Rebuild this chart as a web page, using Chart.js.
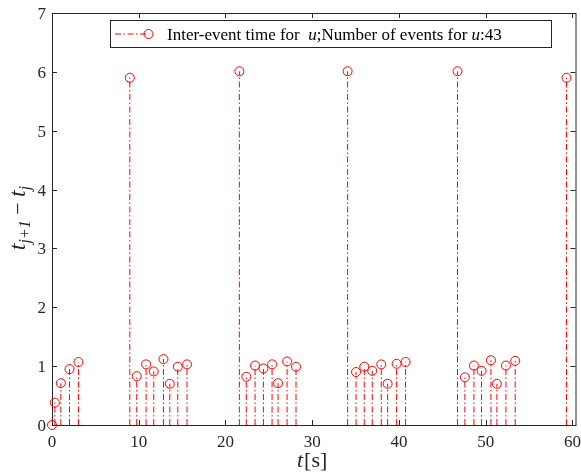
<!DOCTYPE html>
<html>
<head>
<meta charset="utf-8">
<script src="https://cdn.jsdelivr.net/npm/chart.js@4.4.0/dist/chart.umd.min.js"></script>
<style>
  html, body { margin: 0; padding: 0; background: #fff; }
  #wrap { width: 581px; height: 472px; }
</style>
</head>
<body>
<div id="wrap"><canvas id="chart" width="581" height="472"></canvas></div>
<script>
// stem plot of inter-event times
const eventTimes = [
  0, 0.33, 1.02, 2.02, 3.05,
  8.97, 9.77, 10.85, 11.73, 12.85, 13.58, 14.5, 15.57,
  21.6, 22.4, 23.41, 24.37, 25.37, 26.06, 27.1, 28.13,
  34.08, 35.05, 36.0, 36.92, 37.96, 38.69, 39.73, 40.76,
  46.75, 47.6, 48.64, 49.52, 50.6, 51.29, 52.33, 53.4,
  59.31
];
const interEvent = [
  0, 0.38, 0.71, 0.95, 1.07,
  5.9, 0.83, 1.03, 0.91, 1.12, 0.7, 0.99, 1.03,
  6.01, 0.82, 1.01, 0.96, 1.03, 0.71, 1.08, 0.99,
  6.01, 0.9, 0.99, 0.92, 1.03, 0.7, 1.04, 1.07,
  6.01, 0.81, 1.01, 0.92, 1.1, 0.7, 1.01, 1.09,
  5.9
];
const xTicks = [0, 10, 20, 30, 40, 50, 60];
const yTicks = [0, 1, 2, 3, 4, 5, 6, 7];
const legendParts = [
  ['Inter-event time for  ', false], ['u', true], [';Number of events for ', false], ['u', true], [':43', false]
];

const RED = '#ff0000';
const AXIS = '#262626';
const SERIF = '"Liberation Serif", "DejaVu Serif", serif';
const DASHDOT = [6, 2.5, 1.5, 2.5];

const stemPlugin = {
  id: 'stems',
  beforeDatasetsDraw(chart) {
    const { ctx, scales: { x, y } } = chart;
    const y0 = y.getPixelForValue(0);
    ctx.save();
    ctx.strokeStyle = RED;
    ctx.lineWidth = 1;
    ctx.setLineDash(DASHDOT);
    eventTimes.forEach((t, i) => {
      const px = x.getPixelForValue(t);
      ctx.beginPath();
      ctx.moveTo(px, y0);
      ctx.lineTo(px, y.getPixelForValue(interEvent[i]));
      ctx.stroke();
    });
    ctx.restore();
  }
};

const framePlugin = {
  id: 'frame',
  beforeDatasetsDraw(chart) {
    const { ctx, chartArea: a, scales: { x, y } } = chart;
    ctx.save();
    ctx.strokeStyle = AXIS;
    ctx.lineWidth = 1;
    ctx.strokeRect(a.left + 0.5, a.top + 0.5, a.right - a.left, a.bottom - a.top);
    const tl = 5;
    ctx.beginPath();
    xTicks.forEach(v => {
      const px = Math.round(x.getPixelForValue(v)) + 0.5;
      ctx.moveTo(px, a.bottom); ctx.lineTo(px, a.bottom - tl);
      ctx.moveTo(px, a.top); ctx.lineTo(px, a.top + tl);
    });
    yTicks.forEach(v => {
      const py = Math.round(y.getPixelForValue(v)) + 0.5;
      ctx.moveTo(a.left, py); ctx.lineTo(a.left + tl, py);
      ctx.moveTo(a.right, py); ctx.lineTo(a.right - tl, py);
    });
    ctx.stroke();

    // tick labels
    ctx.fillStyle = AXIS;
    ctx.font = '17px ' + SERIF;
    ctx.textAlign = 'center';
    ctx.textBaseline = 'alphabetic';
    xTicks.forEach(v => ctx.fillText(String(v), x.getPixelForValue(v), a.bottom + 22));
    ctx.textAlign = 'right';
    yTicks.forEach(v => ctx.fillText(String(v), a.left - 6, y.getPixelForValue(v) + 6));
    ctx.restore();
  },
  afterDraw(chart) {
    const { ctx } = chart;
    ctx.save();
    ctx.strokeStyle = AXIS;
    ctx.lineWidth = 1;
    // legend box
    const lx = 110.5, ly = 20.5, lw = 441, lh = 27;
    ctx.fillStyle = '#fff';
    ctx.fillRect(lx, ly, lw, lh);
    ctx.strokeRect(lx, ly, lw, lh);
    const cy = ly + lh / 2;
    ctx.strokeStyle = RED;
    ctx.setLineDash(DASHDOT);
    ctx.beginPath(); ctx.moveTo(115, cy); ctx.lineTo(148, cy); ctx.stroke();
    ctx.setLineDash([]);
    ctx.beginPath(); ctx.arc(148.5, cy, 4.5, 0, Math.PI * 2); ctx.stroke();
    let tx = 167;
    ctx.fillStyle = '#000';
    ctx.textBaseline = 'alphabetic';
    legendParts.forEach(([s, it]) => {
      ctx.font = (it ? 'italic ' : '') + '17px ' + SERIF;
      ctx.fillText(s, tx, cy + 6);
      tx += ctx.measureText(s).width;
    });

    // x title: t[s]
    ctx.fillStyle = AXIS;
    let xx = 297;
    [['t', true], ['[s]', false]].forEach(([s, it]) => {
      ctx.font = (it ? 'italic ' : '') + '22px ' + SERIF;
      ctx.fillText(s, xx, 467);
      xx += ctx.measureText(s).width + (it ? 1 : 0);
    });

    // y title: t_{j+1} - t_j
    ctx.translate(25, 218);
    ctx.rotate(-Math.PI / 2);
    const parts = [
      ['t', 'italic 24px', 0], ['j+1', 'italic 16px', 5], [' \u2212 ', '22px', 0], ['t', 'italic 24px', 0], ['j', 'italic 16px', 5]
    ];
    let total = 0;
    parts.forEach(([s, f]) => { ctx.font = f + ' ' + SERIF; total += ctx.measureText(s).width; });
    let yx = -total / 2;
    parts.forEach(([s, f, dy]) => {
      ctx.font = f + ' ' + SERIF;
      ctx.fillText(s, yx, dy);
      yx += ctx.measureText(s).width;
    });
    ctx.restore();
  }
};

new Chart(document.getElementById('chart'), {
  type: 'scatter',
  data: {
    datasets: [{
      data: eventTimes.map((t, i) => ({ x: t, y: interEvent[i] })),
      clip: false,
      pointStyle: 'circle',
      pointRadius: 4.5,
      pointHoverRadius: 4.5,
      pointBorderColor: RED,
      pointBackgroundColor: 'rgba(0,0,0,0)',
      pointBorderWidth: 1,
      showLine: false
    }]
  },
  options: {
    responsive: false,
    animation: false,
    devicePixelRatio: 1,
    layout: { padding: { top: 13, right: 5, left: 0, bottom: 0 } },
    plugins: { legend: { display: false }, tooltip: { enabled: false } },
    scales: {
      x: {
        type: 'linear', min: 0, max: 60.35,
        afterBuildTicks: s => { s.ticks = xTicks.map(v => ({ value: v })); },
        afterFit: s => { s.height = 47; },
        grid: { display: false, drawTicks: false },
        border: { display: false },
        ticks: { display: false }
      },
      y: {
        type: 'linear', min: 0, max: 7,
        afterBuildTicks: s => { s.ticks = yTicks.map(v => ({ value: v })); },
        afterFit: s => { s.width = 52; },
        grid: { display: false, drawTicks: false },
        border: { display: false },
        ticks: { display: false }
      }
    }
  },
  plugins: [stemPlugin, framePlugin]
});
</script>
</body>
</html>
